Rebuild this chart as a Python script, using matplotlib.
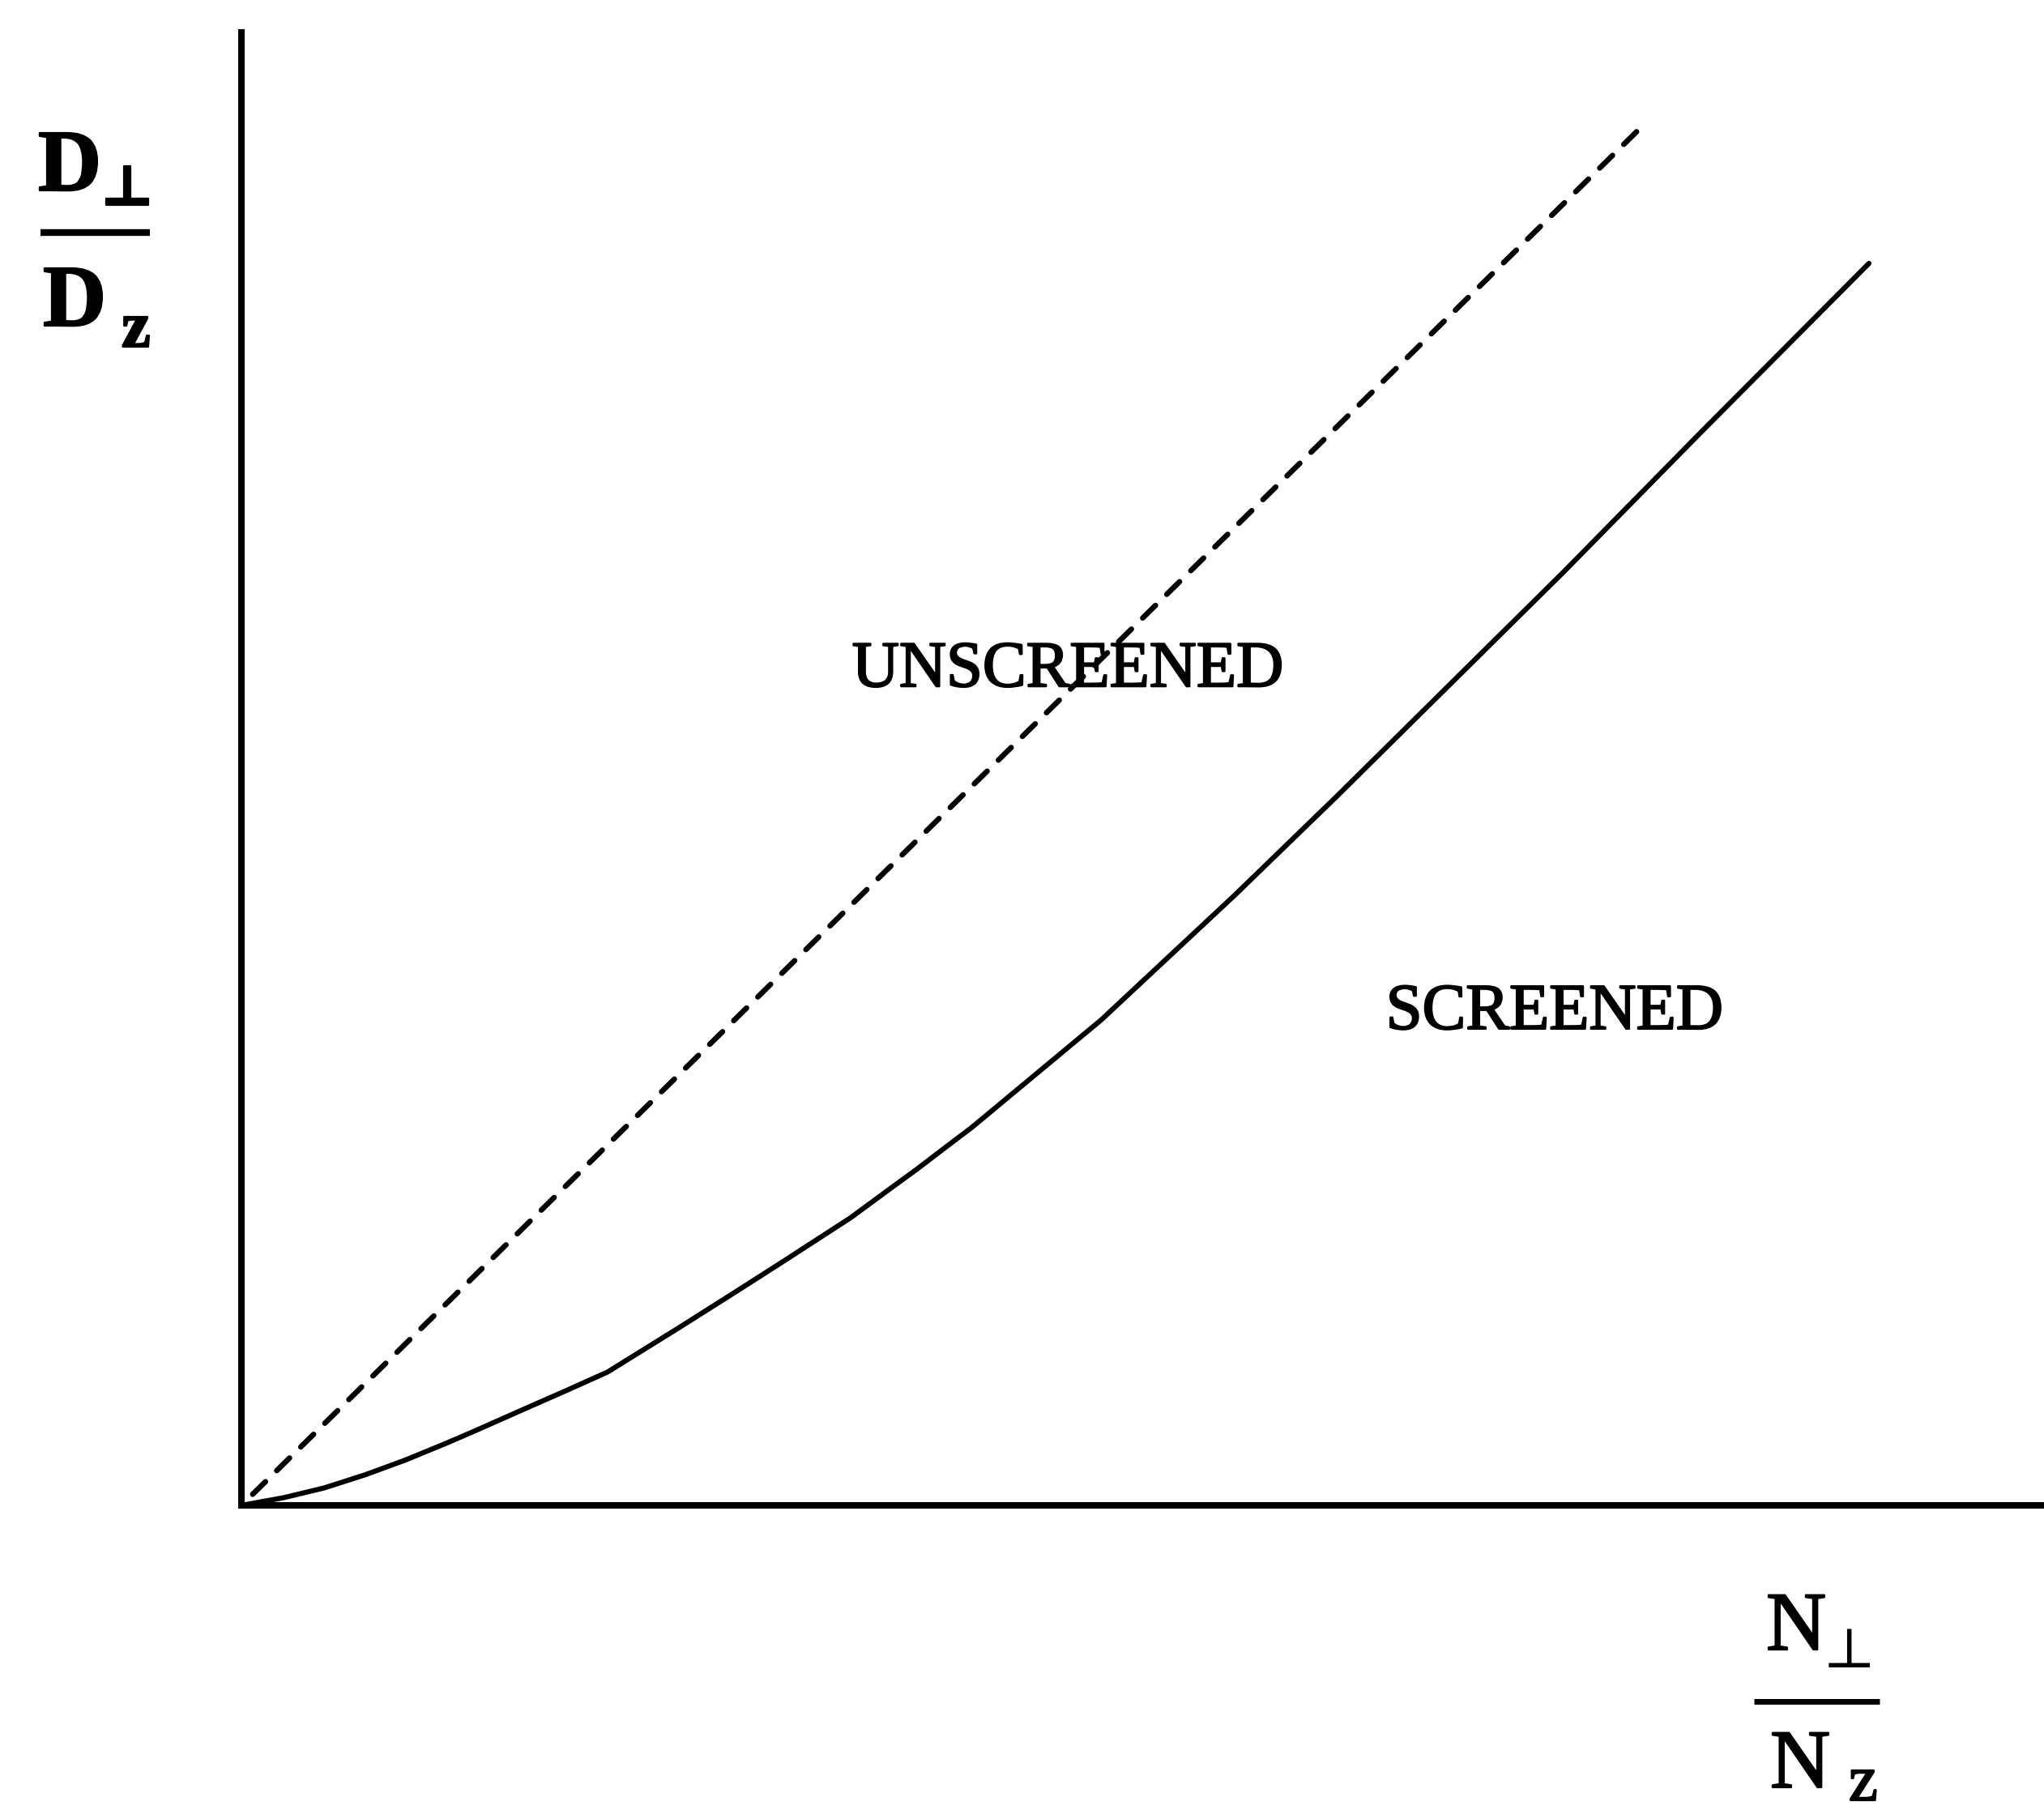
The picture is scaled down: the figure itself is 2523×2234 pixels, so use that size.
import matplotlib
matplotlib.use("Agg")
import matplotlib.pyplot as plt
from matplotlib.lines import Line2D
import matplotlib.patheffects as pe

# ---- data (arbitrary units) ----
screened_x = [0.0, 0.234, 0.458, 0.683, 0.908, 1.133, 1.281, 1.582, 1.807, 2.031,
              2.418, 2.710, 2.998, 3.380, 3.600, 3.748, 3.901, 4.049, 4.769, 5.510,
              6.076, 7.335, 8.099, 9.029]
screened_y = [0.0, 0.052, 0.118, 0.206, 0.307, 0.420, 0.498, 0.661, 0.782, 0.905,
              1.199, 1.425, 1.650, 1.953, 2.151, 2.283, 2.426, 2.563, 3.295, 4.142,
              4.813, 6.337, 7.288, 8.432]
unscreened_x = [0.0, 7.76]
unscreened_y = [0.0, 9.35]
region_labels = ["UNSCREENED", "SCREENED"]
region_pos = [(4.585, 5.56), (7.285, 3.235)]  # baseline-centred positions in data units

W, H = 2523, 2234
DPI = 100
SERIF = ["Liberation Serif", "DejaVu Serif"]

plt.rcParams["lines.scale_dashes"] = False
fig = plt.figure(figsize=(W / DPI, H / DPI), dpi=DPI)
fig.patch.set_facecolor("white")

ox, oy = 298, 1858
ax = fig.add_axes([ox / W, (H - oy) / H, 1 - ox / W, (oy - 40) / H])
ax.set_xlim(0, 10)
ax.set_ylim(0, 10)
for s in ("top", "right"):
    ax.spines[s].set_visible(False)
for s in ("left", "bottom"):
    ax.spines[s].set_linewidth(5.8)
    ax.spines[s].set_color("black")
ax.set_xticks([])
ax.set_yticks([])
ax.patch.set_alpha(0)

ax.plot(screened_x, screened_y, color="black", lw=4.5, solid_capstyle="round",
        solid_joinstyle="round", clip_on=False)
ax.plot(unscreened_x, unscreened_y, color="black", lw=4.8, clip_on=False,
        linestyle=(16, (16, 14)), dash_capstyle="round")

thick = [pe.withStroke(linewidth=1.6, foreground="black")]
for lab, (x, y) in zip(region_labels, region_pos):
    ax.text(x, y, lab, ha="center", va="baseline", fontsize=58,
            family=SERIF, color="black", path_effects=thick)


def ptext(px, py, s, size, weight="normal", ha="left", effects=None):
    fig.text(px / W, 1 - py / H, s, ha=ha, va="baseline", fontsize=size,
             fontweight=weight, family=SERIF, color="black", path_effects=effects)


def pbar(x0, x1, py, lw):
    fig.add_artist(Line2D([x0 / W, x1 / W], [1 - py / H, 1 - py / H],
                          transform=fig.transFigure, color="black", lw=lw,
                          solid_capstyle="butt"))

# y-axis label: D_perp / D_z
ptext(47, 235, "D", 78, "bold", effects=thick)
ptext(124, 253, "\u22a5", 50, "bold", effects=thick)
pbar(50, 185, 287, 6.0)
ptext(53, 402, "D", 78, "bold", effects=thick)
ptext(150, 428, "z", 58, "bold", effects=thick)

# x-axis label: N_perp / N_z
ptext(2180, 2036, "N", 74, effects=thick)
ptext(2250, 2058, "\u22a5", 50)
pbar(2165, 2320, 2100, 5.0)
ptext(2185, 2206, "N", 74, effects=thick)
ptext(2282, 2222, "z", 58, effects=thick)

fig.savefig("out.png", dpi=DPI, facecolor="white")
